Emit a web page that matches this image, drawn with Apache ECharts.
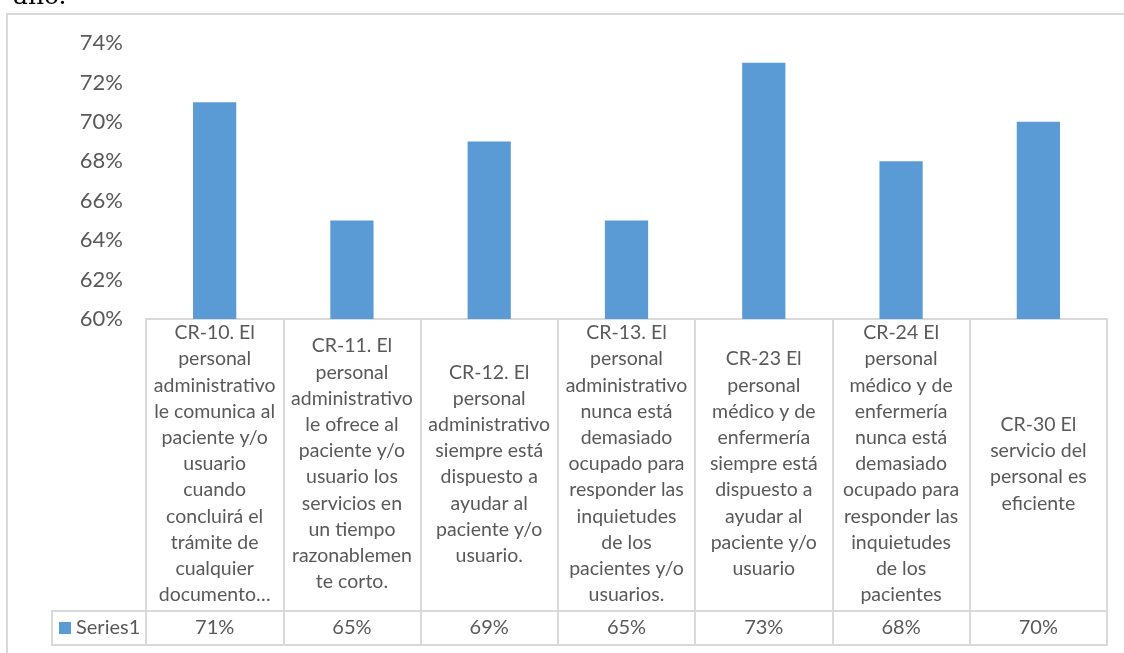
<!DOCTYPE html>
<html>
<head>
<meta charset="utf-8">
<script src="https://cdn.jsdelivr.net/npm/echarts@6/dist/echarts.min.js"></script>
<style>
html,body{margin:0;padding:0;background:#fff;}
#chart{width:1124px;height:653px;}
</style>
</head>
<body>
<div id="chart"></div>
<script>
const categories = [
  "CR-10. El\npersonal\nadministrativo\nle comunica al\npaciente y/o\nusuario\ncuando\nconcluirá el\ntrámite de\ncualquier\ndocumento…",
  "CR-11. El\npersonal\nadministrativo\nle ofrece al\npaciente y/o\nusuario los\nservicios en\nun tiempo\nrazonablemen\nte corto.",
  "CR-12. El\npersonal\nadministrativo\nsiempre está\ndispuesto a\nayudar al\npaciente y/o\nusuario.",
  "CR-13. El\npersonal\nadministrativo\nnunca está\ndemasiado\nocupado para\nresponder las\ninquietudes\nde los\npacientes y/o\nusuarios.",
  "CR-23 El\npersonal\nmédico y de\nenfermería\nsiempre está\ndispuesto a\nayudar al\npaciente y/o\nusuario",
  "CR-24 El\npersonal\nmédico y de\nenfermería\nnunca está\ndemasiado\nocupado para\nresponder las\ninquietudes\nde los\npacientes",
  "CR-30 El\nservicio del\npersonal es\neficiente"
];
const seriesName = "Series1";
const values = [0.71, 0.65, 0.69, 0.65, 0.73, 0.68, 0.70];
const yMin = 0.60, yMax = 0.74, yStep = 0.02;

const FONT = 'Lato, "Liberation Sans", sans-serif';
const TXT = '#595959';
const LINE = '#d9d9d9';
const pct = v => Math.round(v * 100) + '%';

const chart = echarts.init(document.getElementById('chart'), null, {renderer: 'canvas'});
chart.setOption({
  animation: false,
  backgroundColor: '#fff',
  textStyle: {fontFamily: FONT},
  grid: {left: 146, right: 17, top: 43, bottom: 334, containLabel: false},
  legend: {
    data: [seriesName], left: 59, top: 618, padding: 0,
    icon: 'rect', itemWidth: 12, itemHeight: 12, itemGap: 5,
    textStyle: {color: TXT, fontSize: 20, fontFamily: FONT}
  },
  xAxis: [
    {
      type: 'category', data: categories, position: 'bottom', offset: 0,
      axisLine: {show: true, lineStyle: {color: LINE, width: 2}},
      axisTick: {show: true, length: 326, lineStyle: {color: LINE, width: 2}},
      axisLabel: {interval: 0, margin: 145, verticalAlign: 'middle', align: 'center',
        color: TXT, fontSize: 19.5, lineHeight: 26.2, fontFamily: FONT},
      splitLine: {show: false}
    },
    {
      type: 'category', data: values.map(pct), position: 'bottom', offset: 292,
      axisLine: {show: true, lineStyle: {color: LINE, width: 2}},
      axisTick: {show: false},
      axisLabel: {interval: 0, margin: 17, verticalAlign: 'middle', align: 'center',
        color: TXT, fontSize: 20, fontFamily: FONT},
      splitLine: {show: false}
    },
    {
      type: 'category', data: values.map(pct), position: 'bottom', offset: 326,
      axisLine: {show: true, lineStyle: {color: LINE, width: 2}},
      axisTick: {show: false}, axisLabel: {show: false}, splitLine: {show: false}
    }
  ],
  yAxis: {
    type: 'value', min: yMin, max: yMax, interval: yStep,
    axisLine: {show: false}, axisTick: {show: false}, splitLine: {show: false},
    axisLabel: {formatter: v => pct(v), color: TXT, fontSize: 22, margin: 23, fontFamily: FONT}
  },
  series: [{
    name: seriesName, type: 'bar', data: values, xAxisIndex: 0,
    barWidth: '31.5%', itemStyle: {color: '#5b9bd5'}
  }],
  graphic: [
    {type: 'rect', shape: {x: 7, y: 14, width: 1140, height: 700},
     style: {fill: 'none', stroke: LINE, lineWidth: 2}, silent: true},
    {type: 'rect', shape: {x: 52, y: 611, width: 94, height: 34},
     style: {fill: 'none', stroke: LINE, lineWidth: 2}, silent: true},
    {type: 'text', x: 13, y: 10,
     style: {text: 'año.', font: '25px "DejaVu Serif", "Liberation Serif", serif', fill: '#000',
       verticalAlign: 'bottom', align: 'left'}, silent: true}
  ]
});
</script>
</body>
</html>
